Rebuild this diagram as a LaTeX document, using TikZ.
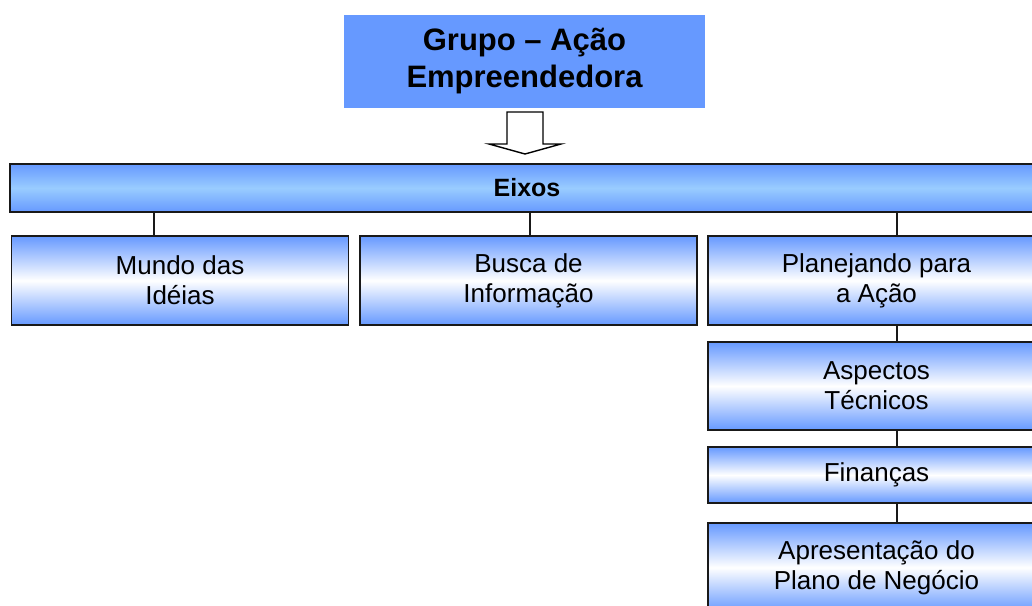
\documentclass[tikz,border=0pt]{standalone}
\usepackage{fontspec}
\setmainfont{Liberation Sans}
\definecolor{boxblue}{RGB}{102,153,255}
\definecolor{lightblue}{RGB}{153,204,255}
\tikzset{
	titlebox/.style={fill=boxblue,minimum width=361pt,minimum height=93pt,align=center,inner sep=0pt,font=\fontsize{31}{37}\selectfont\bfseries},
	barbox/.style={draw=black!90,line width=1.6pt,top color=boxblue,bottom color=boxblue,middle color=lightblue,minimum width=1034pt,minimum height=48pt,inner sep=0pt,font=\fontsize{25}{30}\selectfont\bfseries},
	axisbox/.style={draw=black!90,line width=1.6pt,top color=boxblue,bottom color=boxblue,middle color=white,minimum width=337pt,align=center,inner sep=0pt,font=\fontsize{26}{30}\selectfont},
	link/.style={draw=black!90,line width=1.6pt}
}
\begin{document}
\begin{tikzpicture}[x=1pt,y=-1pt]
	\clip (0,0) rectangle (1032,605);
	\node[titlebox] (grupo) at (524.5,61.5) {Grupo – Ação\\Empreendedora};
	\draw[line width=1.4pt,fill=white] (507,112) -- (543,112) -- (543,144) -- (561,144) -- (525,154) -- (489,144) -- (507,144) -- cycle;
	\node[barbox] (eixos) at (527,188) {Eixos};
	\node[axisbox,minimum height=89pt] (mundo) at (180,280.5) {Mundo das\\Idéias};
	\node[axisbox,minimum height=89pt] (busca) at (528.5,280.5) {Busca de\\Informação};
	\node[axisbox,minimum height=89pt] (plan) at (876.5,280.5) {Planejando para\\a Ação};
	\node[axisbox,minimum height=88pt] (aspectos) at (876.5,386) {Aspectos\\Técnicos};
	\node[axisbox,minimum height=56pt] (financas) at (876.5,475) {Finanças};
	\node[axisbox,minimum height=89pt] (apres) at (876.5,567.5) {Apresentação do\\Plano de Negócio};
	\coordinate (m) at (154,0);
	\coordinate (b) at (530,0);
	\coordinate (p) at (897,0);
	\draw[link] (eixos.south -| m) -- (mundo.north -| m);
	\draw[link] (eixos.south -| b) -- (busca.north -| b);
	\draw[link] (eixos.south -| p) -- (plan.north -| p);
	\draw[link] (plan.south -| p) -- (aspectos.north -| p);
	\draw[link] (aspectos.south -| p) -- (financas.north -| p);
	\draw[link] (financas.south -| p) -- (apres.north -| p);
\end{tikzpicture}
\end{document}
